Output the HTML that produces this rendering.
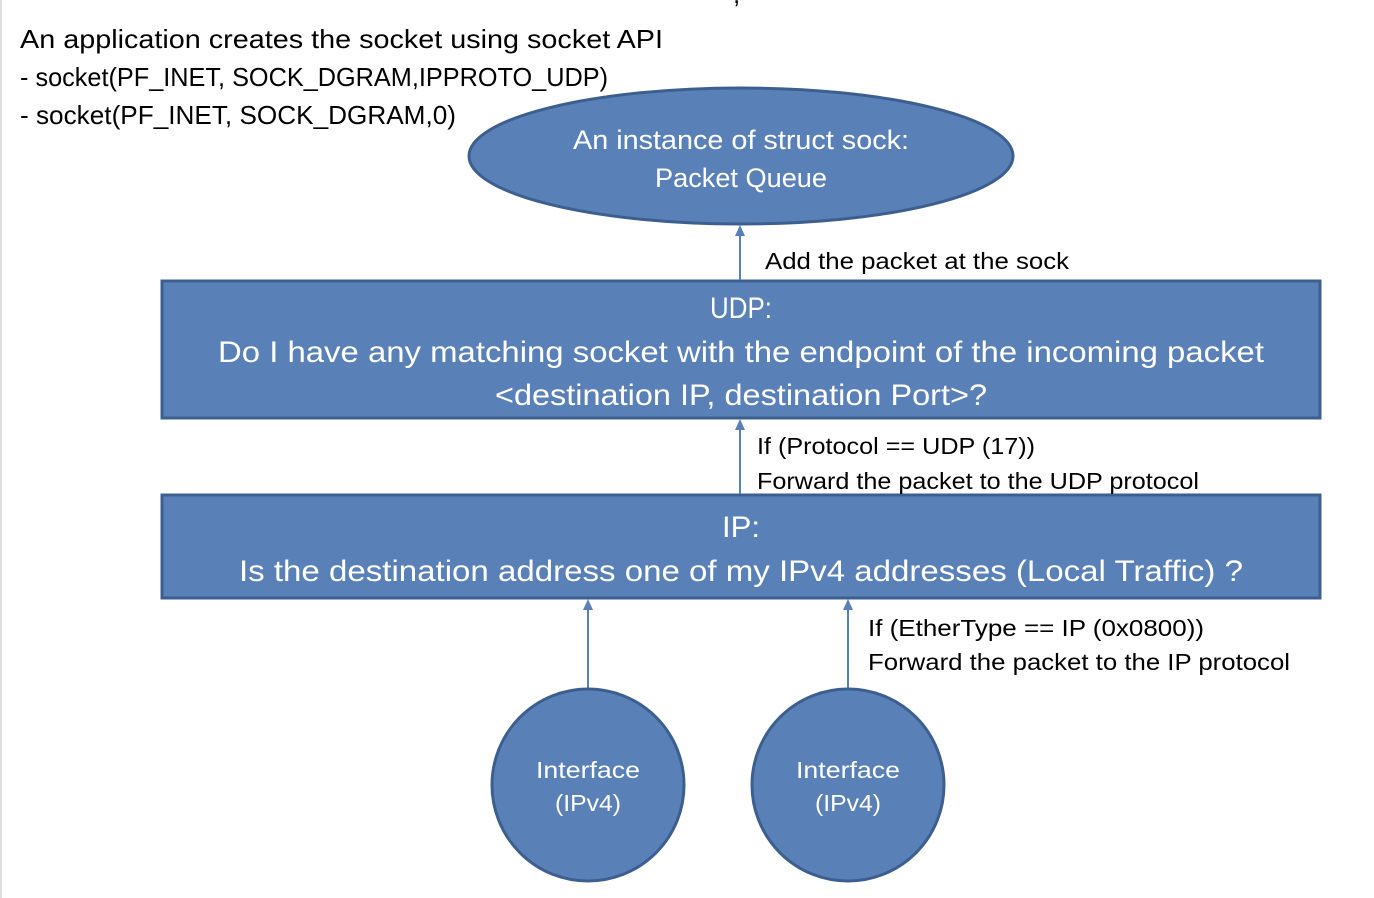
<!DOCTYPE html>
<html><head><meta charset="utf-8"><style>
html,body{margin:0;padding:0;background:#fff;}
svg{display:block;}
text{font-family:"Liberation Sans",sans-serif;}
</style></head><body>
<svg width="1374" height="898" viewBox="0 0 1374 898" xmlns="http://www.w3.org/2000/svg">
<rect x="0" y="0" width="2" height="898" fill="#e0e0e0"/>
<text x="733" y="3" font-size="26" fill="#000">,</text>
<g font-size="26" fill="#000">
<text x="20" y="48" textLength="643" lengthAdjust="spacingAndGlyphs">An application creates the socket using socket API</text>
<text x="20" y="86" textLength="588" lengthAdjust="spacingAndGlyphs">- socket(PF_INET, SOCK_DGRAM,IPPROTO_UDP)</text>
<text x="20" y="124" textLength="436" lengthAdjust="spacingAndGlyphs">- socket(PF_INET, SOCK_DGRAM,0)</text>
</g>
<ellipse cx="741" cy="156" rx="272" ry="68" fill="#5a80b8" stroke="#3d5f90" stroke-width="3"/>
<g font-size="27" fill="#fff" text-anchor="middle">
<text x="741" y="149" textLength="336" lengthAdjust="spacingAndGlyphs">An instance of struct sock:</text>
<text x="741" y="187" textLength="172" lengthAdjust="spacingAndGlyphs">Packet Queue</text>
</g>
<rect x="162" y="281" width="1158" height="137" fill="#5a80b8" stroke="#3d5f90" stroke-width="3"/>
<g font-size="30" fill="#fff" text-anchor="middle">
<text x="741" y="318" textLength="62" lengthAdjust="spacingAndGlyphs">UDP:</text>
<text x="741" y="362" textLength="1046" lengthAdjust="spacingAndGlyphs">Do I have any matching socket with the endpoint of the incoming packet</text>
<text x="741" y="405" textLength="492" lengthAdjust="spacingAndGlyphs">&lt;destination IP, destination Port&gt;?</text>
</g>
<rect x="162" y="495" width="1158" height="103" fill="#5a80b8" stroke="#3d5f90" stroke-width="3"/>
<g font-size="30" fill="#fff" text-anchor="middle">
<text x="741" y="537" textLength="38" lengthAdjust="spacingAndGlyphs">IP:</text>
<text x="741" y="581" textLength="1004" lengthAdjust="spacingAndGlyphs">Is the destination address one of my IPv4 addresses (Local Traffic) ?</text>
</g>
<g stroke="#5a80b8" stroke-width="2">
<line x1="740" y1="280" x2="740" y2="232"/>
<line x1="740" y1="494" x2="740" y2="424"/>
<line x1="588" y1="688" x2="588" y2="604"/>
<line x1="848" y1="688" x2="848" y2="604"/>
</g>
<g fill="#5a80b8">
<polygon points="740,225 735,236 745,236"/>
<polygon points="740,419 735,430 745,430"/>
<polygon points="588,599 583,610 593,610"/>
<polygon points="848,599 843,610 853,610"/>
</g>
<g font-size="23" fill="#000">
<text x="765" y="269" textLength="304" lengthAdjust="spacingAndGlyphs">Add the packet at the sock</text>
<text x="757" y="454" textLength="278" lengthAdjust="spacingAndGlyphs">If (Protocol == UDP (17))</text>
<text x="757" y="489" textLength="442" lengthAdjust="spacingAndGlyphs">Forward the packet to the UDP protocol</text>
<text x="868" y="636" textLength="336" lengthAdjust="spacingAndGlyphs">If (EtherType == IP (0x0800))</text>
<text x="868" y="670" textLength="422" lengthAdjust="spacingAndGlyphs">Forward the packet to the IP protocol</text>
</g>
<circle cx="588" cy="785" r="96" fill="#5a80b8" stroke="#3d5f90" stroke-width="3"/>
<circle cx="848" cy="785" r="96" fill="#5a80b8" stroke="#3d5f90" stroke-width="3"/>
<g font-size="23" fill="#fff" text-anchor="middle">
<text x="588" y="778" textLength="104" lengthAdjust="spacingAndGlyphs">Interface</text>
<text x="588" y="811" textLength="66" lengthAdjust="spacingAndGlyphs">(IPv4)</text>
<text x="848" y="778" textLength="104" lengthAdjust="spacingAndGlyphs">Interface</text>
<text x="848" y="811" textLength="66" lengthAdjust="spacingAndGlyphs">(IPv4)</text>
</g>
</svg>
</body></html>
